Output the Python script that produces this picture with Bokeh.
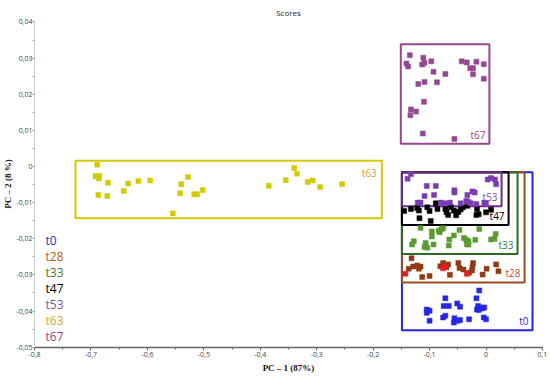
from bokeh.plotting import figure
from bokeh.models import (Range1d, SingleIntervalTicker, CustomJSTickFormatter, Label)
from bokeh.core.properties import value
from bokeh.embed import file_html
from bokeh.resources import INLINE

# ---------------- data ----------------
groups = ["t0", "t28", "t33", "t47", "t53", "t63", "t67"]

t0_x = [-0.072, -0.075, -0.066, -0.051, -0.046, -0.105, -0.100, -0.105, -0.100, -0.076,
        -0.072, -0.056, -0.057, -0.050, -0.046, -0.030, -0.012, -0.017, -0.014, -0.010,
        -0.016, -0.013, -0.007, -0.003, -0.004, 0.000]
t0_y = [-0.0365, -0.0386, -0.0386, -0.0379, -0.0388, -0.0396, -0.0399, -0.0405, -0.0427, -0.0418,
        -0.0413, -0.0420, -0.0432, -0.0427, -0.0425, -0.0423, -0.0343, -0.0365, -0.0386, -0.0390,
        -0.0396, -0.0397, -0.0393, -0.0390, -0.0418, -0.0423]

t28_x = [-0.132, -0.137, -0.129, -0.122, -0.116, -0.119, -0.113, -0.100, -0.081, -0.076,
         -0.070, -0.067, -0.064, -0.049, -0.047, -0.030, -0.023, -0.024, -0.025, -0.006,
         0.001, 0.018, 0.022, -0.040]
t28_y = [-0.0254, -0.0283, -0.0277, -0.0274, -0.0277, -0.0283, -0.0306, -0.0303, -0.0276, -0.0267,
         -0.0279, -0.0271, -0.0300, -0.0267, -0.0281, -0.0294, -0.0267, -0.0278, -0.0288, -0.0299,
         -0.0283, -0.0271, -0.0290, -0.0285]
t28_red_x = [-0.143, -0.073, -0.034, -0.076]
t28_red_y = [-0.0297, -0.0277, -0.0297, -0.0282]

t33_x = [-0.116, -0.096, -0.096, -0.084, -0.079, -0.076, -0.082, -0.047, -0.012, -0.128,
         -0.131, -0.107, -0.109, -0.104, -0.093, -0.066, -0.065, -0.057, -0.039, -0.035,
         -0.031, -0.034, -0.031, -0.019, 0.009, 0.015, 0.017]
t33_y = [-0.0170, -0.0180, -0.0194, -0.0178, -0.0173, -0.0171, -0.0182, -0.0176, -0.0173, -0.0207,
         -0.0216, -0.0212, -0.0223, -0.0225, -0.0216, -0.0219, -0.0202, -0.0191, -0.0198, -0.0203,
         -0.0207, -0.0216, -0.0216, -0.0203, -0.0202, -0.0200, -0.0187]

t47_x = [-0.145, -0.133, -0.122, -0.119, -0.118, -0.104, -0.100, -0.098, -0.089, -0.086,
         -0.072, -0.070, -0.067, -0.062, -0.057, -0.049, -0.045, -0.041, -0.053, -0.033,
         -0.016, -0.017, -0.013, 0.000, 0.009]
t47_y = [-0.0123, -0.0118, -0.0115, -0.0122, -0.0143, -0.0113, -0.0123, -0.0151, -0.0102, -0.0118,
         -0.0118, -0.0127, -0.0134, -0.0113, -0.0122, -0.0126, -0.0119, -0.0113, -0.0135, -0.0109,
         -0.0118, -0.0134, -0.0132, -0.0127, -0.0120]

t53_x = [-0.133, -0.139, -0.105, -0.089, -0.109, -0.092, -0.056, -0.056, -0.024, -0.020,
         -0.033, 0.003, 0.009, 0.016, 0.018, -0.121, -0.116, -0.080, -0.072, -0.064,
         -0.045, -0.035, -0.031, -0.017, -0.003, 0.000, -0.027]
t53_y = [-0.0021, -0.0034, -0.0054, -0.0054, -0.0082, -0.0079, -0.0066, -0.0072, -0.0069, -0.0072,
         -0.0079, -0.0036, -0.0032, -0.0036, -0.0049, -0.0100, -0.0100, -0.0100, -0.0102, -0.0100,
         -0.0102, -0.0095, -0.0098, -0.0104, -0.0100, -0.0102, -0.0102]

t63_x = [-0.689, -0.692, -0.686, -0.686, -0.670, -0.687, -0.671, -0.642, -0.634, -0.616,
         -0.595, -0.555, -0.540, -0.528, -0.542, -0.517, -0.512, -0.502, -0.385, -0.355,
         -0.340, -0.335, -0.316, -0.307, -0.294, -0.255]
t63_y = [0.0005, -0.0027, -0.0026, -0.0033, -0.0045, -0.0079, -0.0082, -0.0068, -0.0047, -0.0040,
         -0.0039, -0.0130, -0.0049, -0.0029, -0.0074, -0.0077, -0.0077, -0.0065, -0.0053, -0.0038,
         -0.0004, -0.0020, -0.0043, -0.0039, -0.0057, -0.0049]

t67_x = [-0.135, -0.141, -0.138, -0.111, -0.113, -0.109, -0.097, -0.093, -0.072, -0.120,
         -0.109, -0.087, -0.043, -0.034, -0.017, -0.004, -0.028, -0.023, -0.023, -0.004,
         -0.110, -0.133, -0.124, -0.134, -0.112, -0.056]
t67_y = [0.0308, 0.0285, 0.0277, 0.0301, 0.0282, 0.0287, 0.0291, 0.0262, 0.0256, 0.0228,
         0.0234, 0.0233, 0.0291, 0.0288, 0.0290, 0.0283, 0.0272, 0.0272, 0.0255, 0.0243,
         0.0179, 0.0158, 0.0152, 0.0142, 0.0091, 0.0076]

# group boxes (left, right, bottom, top)
box_left = [-0.149, -0.149, -0.149, -0.149, -0.149, -0.7275, -0.151]
box_right = [0.0824, 0.0683, 0.0559, 0.0400, 0.0276, -0.1846, 0.006]
box_bottom = [-0.0453, -0.0321, -0.0242, -0.0162, -0.0110, -0.0143, 0.0063]
box_top = [-0.0016, -0.0016, -0.0016, -0.0016, -0.0016, 0.0016, 0.0338]

x_ticks_interval = 0.1
y_ticks_interval = 0.01
title_text = "Scores"
x_title = "PC – 1 (87%)"
y_title = "PC – 2 (8 %)"

# ---------------- styles ----------------
marker_col = ["#2626E6", "#8E3A16", "#5C9A34", "#000000", "#7A3DB0", "#D2CB00", "#94488E"]
box_col = ["#2424E0", "#9A4A22", "#2E6B22", "#000000", "#6A2D8C", "#D6CA00", "#97468F"]
text_col = ["#2B2BD4", "#B5562A", "#3D7A3D", "#000000", "#7B52A6", "#D8A23A", "#A4407E"]

p = figure(width=550, height=377, output_backend="svg", toolbar_location=None,
           x_range=Range1d(-0.8001, 0.1001), y_range=Range1d(-0.0501, 0.0404),
           min_border_left=33, min_border_right=8, min_border_top=20, min_border_bottom=30,
           title=title_text)
p.title.text_font = "Open Sans"
p.title.text_font_size = "8px"
p.title.text_font_style = "normal"
p.title.text_color = "#222222"
p.title.align = "center"
p.title.vertical_align = "top"
p.title.offset = -10
p.title.standoff = 2
p.outline_line_color = None
p.grid.visible = False
p.background_fill_color = "white"

p.xaxis.ticker = SingleIntervalTicker(interval=x_ticks_interval, num_minor_ticks=2)
p.yaxis.ticker = SingleIntervalTicker(interval=y_ticks_interval, num_minor_ticks=2)
p.xaxis.formatter = CustomJSTickFormatter(code="""
  if (Math.abs(tick) < 1e-9) return "0";
  return tick.toFixed(1).replace(".", ",");""")
p.yaxis.formatter = CustomJSTickFormatter(code="""
  if (Math.abs(tick) < 1e-9) return "0";
  return tick.toFixed(2).replace(".", ",");""")

for ax in (p.xaxis[0], p.yaxis[0]):
    ax.major_label_text_font = "Open Sans"
    ax.major_label_text_font_size = "7px"
    ax.major_label_text_color = "#444444"
    ax.major_tick_in = 0
    ax.major_tick_out = 3
    ax.minor_tick_in = 0
    ax.minor_tick_out = 2
    ax.major_label_standoff = 1
    ax.axis_label_text_font = "Liberation Serif"
    ax.axis_label_text_font_style = "bold"
    ax.axis_label_text_font_size = "9px"
    ax.axis_label_text_color = "#111111"

p.yaxis.major_tick_out = 2
p.yaxis.major_label_standoff = 0
p.xaxis.axis_label = x_title
p.yaxis.axis_label = y_title
p.xaxis.axis_label_standoff = 3
p.yaxis.axis_label_standoff = 0
p.xaxis.axis_line_color = "#666666"
p.xaxis.axis_line_width = 1.5
p.xaxis.major_tick_line_color = "#666666"
p.xaxis.minor_tick_line_color = "#666666"
p.yaxis.axis_line_color = "#CFCFCF"
p.yaxis.major_tick_line_color = "#AAAAAA"
p.yaxis.minor_tick_line_color = "#AAAAAA"

# boxes
for i, g in enumerate(groups):
    p.quad(left=[box_left[i]], right=[box_right[i]], bottom=[box_bottom[i]], top=[box_top[i]],
           fill_alpha=0, line_color=box_col[i], line_width=2)

# points
series = {
    "t0": (t0_x, t0_y), "t28": (t28_x, t28_y), "t33": (t33_x, t33_y),
    "t47": (t47_x, t47_y), "t53": (t53_x, t53_y), "t63": (t63_x, t63_y),
    "t67": (t67_x, t67_y),
}
for i, g in enumerate(groups):
    xs, ys = series[g]
    p.scatter(xs, ys, marker="square", size=5, fill_color=marker_col[i],
              line_color=marker_col[i], line_width=0.5)
p.scatter(t28_red_x, t28_red_y, marker="square", size=5, fill_color="#E41E1E",
          line_color="#E41E1E", line_width=0.5)

# box labels
for i, g in enumerate(groups):
    if g == "t63":
        p.text(x=[box_right[i]], y=[box_top[i]], text=[g], x_offset=-5, y_offset=5,
               text_align="right", text_baseline="top", text_color=text_col[i],
               text_font=value("Open Sans"), text_font_size="10px")
    else:
        p.text(x=[box_right[i]], y=[box_bottom[i]], text=[g], x_offset=-4, y_offset=-2,
               text_align="right", text_baseline="bottom", text_color=text_col[i],
               text_font=value("Open Sans"), text_font_size="10px")

# legend text column at left
leg_x = -0.7806
leg_y0 = -0.0206
leg_step = 0.0044
for i, g in enumerate(groups):
    p.add_layout(Label(x=leg_x, y=leg_y0 - i * leg_step, text=g, text_color=text_col[i],
                       text_font="Open Sans", text_font_size="12px",
                       text_baseline="middle", text_align="left"))

open("out.html", "w").write(file_html(p, INLINE))
